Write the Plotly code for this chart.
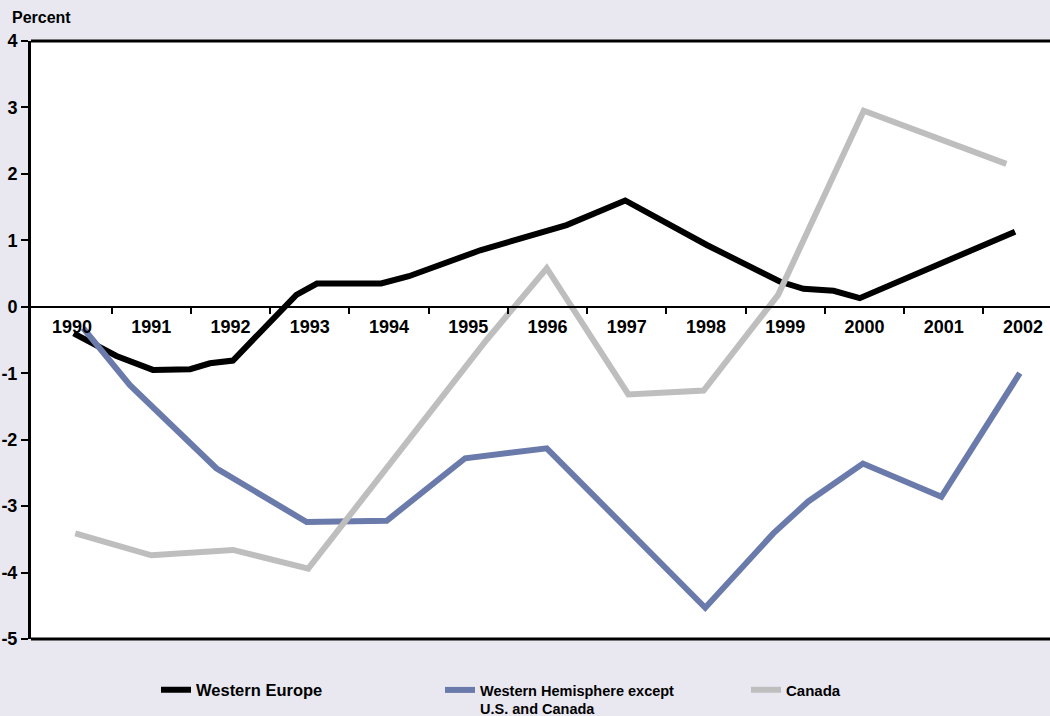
import plotly.graph_objects as go

# ---- data ----
years = list(range(1990, 2003))
year_labels = [str(y) for y in years]
minor_ticks = [y + 0.5 for y in range(1990, 2002)]
y_ticks = [-5, -4, -3, -2, -1, 0, 1, 2, 3, 4]
y_labels = ["-5", "-4", "-3", "-2", "-1", "0", "1", "2", "3", "4"]

we_x = [1990.02, 1990.56, 1991.02, 1991.49, 1991.74, 1992.03, 1992.83, 1993.09,
        1993.90, 1994.25, 1995.15, 1996.24, 1996.98, 1998.01, 1998.93, 1999.23,
        1999.61, 1999.94, 2001.90]
we_y = [-0.40, -0.74, -0.95, -0.94, -0.85, -0.81, 0.18, 0.35,
        0.35, 0.46, 0.85, 1.23, 1.60, 0.93, 0.38, 0.27,
        0.24, 0.13, 1.13]

wh_x = [1990.14, 1990.73, 1991.82, 1992.96, 1993.97, 1994.96, 1995.99, 1997.99,
        1998.85, 1999.29, 1999.98, 2000.97, 2001.96]
wh_y = [-0.32, -1.18, -2.43, -3.24, -3.22, -2.28, -2.13, -4.53,
        -3.41, -2.93, -2.36, -2.86, -1.00]

ca_x = [1990.04, 1991.00, 1992.03, 1992.98, 1995.23, 1995.99, 1997.02, 1997.97,
        1998.91, 1999.52, 1999.99, 2001.79]
ca_y = [-3.41, -3.74, -3.66, -3.94, -0.50, 0.58, -1.32, -1.26,
        0.18, 1.76, 2.95, 2.15]

# ---- styling ----
W, H = 1050, 716
ML, MR, MT, MB = 31, 0, 41, 77
PW, PH = W - ML - MR, H - MT - MB
BG = "#E9E8F1"
FONT = "Liberation Sans"

def px_x(px):
    return (px - ML) / PW

def px_y(py):
    return (H - MB - py) / PH

fig = go.Figure()
fig.add_trace(go.Scatter(x=we_x, y=we_y, mode="lines", name="Western Europe",
                         line=dict(color="#000000", width=6), legend="legend",
                         showlegend=True))
fig.add_trace(go.Scatter(x=wh_x, y=wh_y, mode="lines",
                         name="Western Hemisphere except<br>U.S. and Canada",
                         line=dict(color="#6A7AAA", width=6), legend="legend2",
                         showlegend=True))
fig.add_trace(go.Scatter(x=ca_x, y=ca_y, mode="lines", name="Canada",
                         line=dict(color="#BEBEBE", width=6), legend="legend3",
                         showlegend=True))

x0 = 1990 - (72.1 - ML) / 79.24
x1 = x0 + PW / 79.24

fig.update_layout(
    width=W, height=H, showlegend=True,
    margin=dict(l=ML, r=MR, t=MT, b=MB, pad=0, autoexpand=False),
    paper_bgcolor=BG, plot_bgcolor="#FFFFFF",
    font=dict(family=FONT, color="#000000"),
    xaxis=dict(range=[x0, x1], anchor="free", position=5 / 9,
               tickmode="array", tickvals=years, ticktext=year_labels,
               ticks="", showgrid=False, zeroline=False, automargin=False,
               showline=True, linecolor="#000000", linewidth=2,
               tickfont=dict(family=FONT, size=18, weight="bold", color="#000000"),
               ticklabelstandoff=4,
               minor=dict(tickmode="array", tickvals=minor_ticks, ticks="outside",
                          ticklen=6, tickwidth=2, tickcolor="#000000", showgrid=False)),
    yaxis=dict(range=[-5, 4], domain=[0, 1], tickmode="array", tickvals=y_ticks,
               ticktext=y_labels, automargin=False,
               ticks="outside", ticklen=7, tickwidth=2, tickcolor="#000000",
               showgrid=False, zeroline=False,
               showline=True, linecolor="#000000", linewidth=3,
               tickfont=dict(family=FONT, size=18, weight="bold", color="#000000")),
    legend=dict(x=px_x(156), y=px_y(690), xanchor="left", yanchor="middle",
                bgcolor="rgba(0,0,0,0)",
                font=dict(family=FONT, size=16.5, weight="bold", color="#000000")),
    legend2=dict(x=px_x(440), y=px_y(674), xanchor="left", yanchor="top",
                 valign="top", bgcolor="rgba(0,0,0,0)",
                 font=dict(family=FONT, size=14.5, weight="bold", color="#000000")),
    legend3=dict(x=px_x(746), y=px_y(690), xanchor="left", yanchor="middle",
                 bgcolor="rgba(0,0,0,0)",
                 font=dict(family=FONT, size=15, weight="bold", color="#000000")),
    annotations=[dict(text="<b>Percent</b>", xref="paper", yref="paper",
                      x=px_x(10), y=px_y(17), xanchor="left", yanchor="middle",
                      showarrow=False, font=dict(family=FONT, size=16, color="#000000"))],
    shapes=[
        dict(type="line", xref="paper", yref="paper", x0=0, x1=1, y0=1, y1=1,
             line=dict(color="#000000", width=3)),
        dict(type="line", xref="paper", yref="paper", x0=0, x1=1, y0=0, y1=0,
             line=dict(color="#000000", width=3)),
    ],
)

fig.write_html("out.html")
